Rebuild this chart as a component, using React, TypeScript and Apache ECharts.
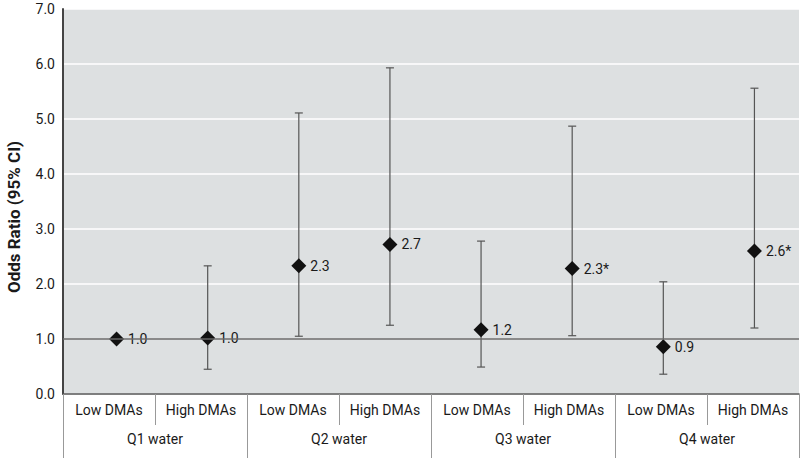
import React, { useEffect, useRef } from "react";
import * as echarts from "echarts";

const subCategories = ["Low DMAs", "High DMAs", "Low DMAs", "High DMAs", "Low DMAs", "High DMAs", "Low DMAs", "High DMAs"];
const groups = ["Q1 water", "Q2 water", "Q3 water", "Q4 water"];
const oddsRatio = [1.0, 1.02, 2.33, 2.72, 1.17, 2.28, 0.86, 2.6];
const pointLabels = ["1.0", "1.0", "2.3", "2.7", "1.2", "2.3*", "0.9", "2.6*"];
const ciLow: (number | null)[] = [null, 0.45, 1.05, 1.25, 0.49, 1.06, 0.36, 1.2];
const ciHigh: (number | null)[] = [null, 2.33, 5.11, 5.93, 2.78, 4.87, 2.04, 5.56];
const yTicks = { min: 0, max: 7, interval: 1 };
const referenceValue = 1.0;

const FONT = "Roboto, 'Liberation Sans', sans-serif";

export default function App() {
  const ref = useRef<HTMLDivElement>(null);
  useEffect(() => {
    if (!ref.current) return;
    const chart = echarts.init(ref.current, undefined, { renderer: "svg" });
    const errData = subCategories
      .map((_, i) => (ciLow[i] == null ? null : [i, ciLow[i], ciHigh[i]]))
      .filter((d) => d != null);
    chart.setOption({
      animation: false,
      textStyle: { fontFamily: FONT },
      grid: [
        { left: 63, top: 9, right: 1, bottom: 64, show: true, backgroundColor: "#dde0e1", borderWidth: 0 },
        { left: 71, top: 9, right: -7, bottom: 64, show: false },
      ],
      xAxis: [
        {
          type: "category",
          gridIndex: 0,
          data: subCategories,
          boundaryGap: true,
          position: "bottom",
          axisLine: { show: true, lineStyle: { color: "#555", width: 1.5 } },
          axisTick: { show: true, interval: 0, length: 31, lineStyle: { color: "#999", width: 1 } },
          axisLabel: { interval: 0, margin: 9, fontSize: 14, color: "#1a1a1a", fontFamily: FONT },
          splitLine: { show: false },
          z: 3,
        },
        {
          type: "category",
          gridIndex: 0,
          data: groups,
          boundaryGap: true,
          position: "bottom",
          offset: 0,
          axisLine: { show: false },
          axisTick: { show: true, interval: 0, length: 64, lineStyle: { color: "#999", width: 1 } },
          axisLabel: { interval: 0, margin: 38, fontSize: 14, color: "#1a1a1a", fontFamily: FONT },
          splitLine: { show: false },
        },
        {
          type: "category",
          gridIndex: 1,
          data: subCategories,
          boundaryGap: true,
          show: false,
        },
      ],
      yAxis: [
        {
          type: "value",
          gridIndex: 0,
          min: yTicks.min,
          max: yTicks.max,
          interval: yTicks.interval,
          axisLine: { show: true, lineStyle: { color: "#444", width: 2 } },
          axisTick: { show: false },
          axisLabel: {
            margin: 8,
            fontSize: 14,
            color: "#1a1a1a",
            fontFamily: FONT,
            formatter: (v: number) => v.toFixed(1),
          },
          splitLine: { show: true, lineStyle: { color: "#ffffff", width: 1.5 } },
        },
        {
          type: "value",
          gridIndex: 1,
          min: yTicks.min,
          max: yTicks.max,
          interval: yTicks.interval,
          show: false,
          splitLine: { show: false },
        },
      ],
      graphic: [
        {
          type: "text",
          x: 14,
          y: 217,
          rotation: Math.PI / 2,
          style: {
            text: "Odds Ratio (95% CI)",
            fontSize: 17,
            fontWeight: "bold",
            fontFamily: FONT,
            fill: "#1a1a1a",
            align: "center",
            verticalAlign: "middle",
          },
        },
      ],
      series: [
        {
          type: "scatter",
          xAxisIndex: 0,
          yAxisIndex: 0,
          data: [],
          silent: true,
          z: 2,
          markLine: {
            silent: true,
            symbol: ["none", "none"],
            label: { show: false },
            lineStyle: { color: "#666", width: 1.5, type: "solid" },
            data: [{ yAxis: referenceValue }],
          },
        },
        {
          type: "custom",
          xAxisIndex: 2,
          yAxisIndex: 1,
          data: errData,
          z: 3,
          renderItem: (params: any, api: any) => {
            const x = api.value(0);
            const lo = api.coord([x, api.value(1)]);
            const hi = api.coord([x, api.value(2)]);
            const half = 4;
            const style = { stroke: "#555", lineWidth: 1.2 };
            return {
              type: "group",
              children: [
                { type: "line", shape: { x1: lo[0], y1: lo[1], x2: hi[0], y2: hi[1] }, style },
                { type: "line", shape: { x1: lo[0] - half, y1: lo[1], x2: lo[0] + half, y2: lo[1] }, style },
                { type: "line", shape: { x1: hi[0] - half, y1: hi[1], x2: hi[0] + half, y2: hi[1] }, style },
              ],
            };
          },
        },
        {
          type: "scatter",
          xAxisIndex: 2,
          yAxisIndex: 1,
          symbol: "diamond",
          symbolSize: 15,
          itemStyle: { color: "#111", opacity: 1 },
          z: 4,
          data: oddsRatio.map((v, i) => [i, v]),
          label: {
            show: true,
            position: "right",
            distance: 4,
            fontSize: 14,
            color: "#1a1a1a",
            fontFamily: FONT,
            formatter: (p: any) => pointLabels[p.dataIndex],
          },
        },
      ],
    });
    return () => chart.dispose();
  }, []);
  return <div ref={ref} style={{ width: 800, height: 458, position: "absolute", left: 0, top: 0 }} />;
}
